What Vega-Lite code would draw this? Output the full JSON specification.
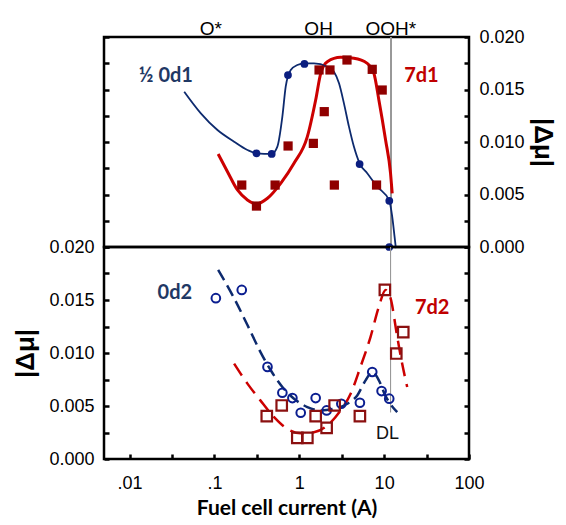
{
  "$schema": "https://vega.github.io/schema/vega-lite/v6.json",
  "padding": {"left": 11, "top": 18, "right": 5, "bottom": 5},
  "background": "white",
  "config": {
    "view": {"stroke": "black", "strokeWidth": 2.5},
    "axis": {"labelFont": "Liberation Sans", "labelFontSize": 18, "labelColor": "black", "domain": false, "tickColor": "black", "tickWidth": 2.5, "grid": false, "titleColor": "black"}
  },
  "datasets": {
    "tbp": [
      {"x": 0.313, "y": 0.00892}, {"x": 0.473, "y": 0.00886}, {"x": 0.736, "y": 0.01638},
      {"x": 1.15, "y": 0.01743}, {"x": 5.14, "y": 0.0079}, {"x": 11.5, "y": 0.0044}, {"x": 11.5, "y": 0.0}
    ],
    "tbl": [
      {"x": 0.0441, "y": 0.01479}, {"x": 0.0692, "y": 0.01273}, {"x": 0.1086, "y": 0.01114},
      {"x": 0.1706, "y": 0.01003}, {"x": 0.245, "y": 0.00924}, {"x": 0.313, "y": 0.00892},
      {"x": 0.473, "y": 0.00886}, {"x": 0.552, "y": 0.00956}, {"x": 0.632, "y": 0.01241},
      {"x": 0.692, "y": 0.01527}, {"x": 0.793, "y": 0.01686}, {"x": 0.948, "y": 0.01733},
      {"x": 1.148, "y": 0.01749}, {"x": 1.49, "y": 0.01749}, {"x": 2.14, "y": 0.01717},
      {"x": 2.56, "y": 0.0167}, {"x": 2.94, "y": 0.01559}, {"x": 3.36, "y": 0.01368},
      {"x": 3.85, "y": 0.01146}, {"x": 4.4, "y": 0.00956}, {"x": 5.14, "y": 0.00797},
      {"x": 6.32, "y": 0.00702}, {"x": 8.29, "y": 0.00575}, {"x": 11.48, "y": 0.00441},
      {"x": 12.45, "y": 0.00289}, {"x": 13.27, "y": 0.00098}, {"x": 13.74, "y": -0.0001}
    ],
    "trp": [
      {"x": 0.21, "y": 0.0059}, {"x": 0.313, "y": 0.0039}, {"x": 0.519, "y": 0.0059},
      {"x": 0.738, "y": 0.00962}, {"x": 1.465, "y": 0.00987}, {"x": 1.97, "y": 0.01289},
      {"x": 1.71, "y": 0.01686}, {"x": 2.3, "y": 0.01686}, {"x": 2.59, "y": 0.0059},
      {"x": 3.65, "y": 0.01781}, {"x": 7.24, "y": 0.01692}, {"x": 9.49, "y": 0.01495},
      {"x": 8.14, "y": 0.0059}
    ],
    "trl": [
      {"x": 0.1107, "y": 0.00886}, {"x": 0.1426, "y": 0.00717}, {"x": 0.187, "y": 0.00543},
      {"x": 0.245, "y": 0.00448}, {"x": 0.313, "y": 0.0041}, {"x": 0.422, "y": 0.00464},
      {"x": 0.604, "y": 0.00606}, {"x": 0.867, "y": 0.00797}, {"x": 1.245, "y": 0.01051},
      {"x": 1.56, "y": 0.014}, {"x": 1.79, "y": 0.01654}, {"x": 2.14, "y": 0.01765},
      {"x": 3.07, "y": 0.01806}, {"x": 4.4, "y": 0.01797}, {"x": 6.32, "y": 0.01749},
      {"x": 7.57, "y": 0.01654}, {"x": 8.67, "y": 0.014}, {"x": 10.4, "y": 0.01019},
      {"x": 11.9, "y": 0.00702}, {"x": 12.45, "y": 0.00511}
    ],
    "bbp": [
      {"x": 0.104, "y": 0.01517}, {"x": 0.21, "y": 0.01595}, {"x": 0.422, "y": 0.00869},
      {"x": 0.632, "y": 0.00625}, {"x": 0.83, "y": 0.00575}, {"x": 1.04, "y": 0.00436},
      {"x": 1.56, "y": 0.00575}, {"x": 2.1, "y": 0.00458}, {"x": 3.13, "y": 0.00521},
      {"x": 5.18, "y": 0.00531}, {"x": 7.24, "y": 0.00821}, {"x": 9.33, "y": 0.00641},
      {"x": 11.48, "y": 0.00569}
    ],
    "bbl": [
      {"x": 0.1107, "y": 0.01785}, {"x": 0.1706, "y": 0.01517}, {"x": 0.245, "y": 0.01264},
      {"x": 0.348, "y": 0.01011}, {"x": 0.461, "y": 0.00837}, {"x": 0.632, "y": 0.00679},
      {"x": 0.867, "y": 0.00569}, {"x": 1.245, "y": 0.0049}, {"x": 1.79, "y": 0.00458},
      {"x": 2.56, "y": 0.00474}, {"x": 3.68, "y": 0.00521}, {"x": 4.82, "y": 0.006},
      {"x": 6.04, "y": 0.00742}, {"x": 7.24, "y": 0.00821}, {"x": 8.67, "y": 0.00742},
      {"x": 10.3, "y": 0.006}, {"x": 14.26, "y": 0.00442}
    ],
    "brp": [
      {"x": 0.414, "y": 0.00404}, {"x": 0.621, "y": 0.00505}, {"x": 0.948, "y": 0.00199},
      {"x": 1.245, "y": 0.00199}, {"x": 1.56, "y": 0.00404}, {"x": 2.1, "y": 0.00294},
      {"x": 2.61, "y": 0.00505}, {"x": 5.18, "y": 0.00404}, {"x": 10.2, "y": 0.01595},
      {"x": 13.9, "y": 0.00995}, {"x": 16.8, "y": 0.01197}
    ],
    "brl": [
      {"x": 0.1706, "y": 0.009}, {"x": 0.245, "y": 0.00711}, {"x": 0.348, "y": 0.00553},
      {"x": 0.505, "y": 0.00395}, {"x": 0.724, "y": 0.00284}, {"x": 1.04, "y": 0.00243},
      {"x": 1.49, "y": 0.00253}, {"x": 2.14, "y": 0.00316}, {"x": 3.07, "y": 0.00458},
      {"x": 4.03, "y": 0.00616}, {"x": 5.26, "y": 0.00869}, {"x": 6.92, "y": 0.01153},
      {"x": 8.67, "y": 0.01437}, {"x": 10.4, "y": 0.01595}, {"x": 11.9, "y": 0.01517},
      {"x": 14.26, "y": 0.01153}, {"x": 16.3, "y": 0.009}, {"x": 18.7, "y": 0.00679}
    ],
    "tlab": [
      {"x": 0.0268, "y": 0.01629, "label": "½ 0d1", "s": "blue"},
      {"x": 27.5, "y": 0.01629, "label": "7d1", "s": "red"}
    ],
    "blab": [
      {"x": 0.0342, "y": 0.0157, "label": "0d2", "s": "blue"},
      {"x": 36.8, "y": 0.01422, "label": "7d2", "s": "red"}
    ],
    "ann": [
      {"x": 0.0908, "y": 0.0208, "label": "O*"},
      {"x": 1.69, "y": 0.0208, "label": "OH"},
      {"x": 12.0, "y": 0.0208, "label": "OOH*"}
    ],
    "dl": [{"x": 10.96, "y": 0.00237, "label": "DL"}]
  },
  "vconcat": [
    {
      "width": 365,
      "height": 210,
      "resolve": {"scale": {"y": "independent"}},
      "layer": [
        {
          "data": {"name": "tbl"},
          "mark": {"type": "rule", "color": "#999999", "strokeWidth": 1.1},
          "encoding": {
            "x": {"datum": 11.9, "type": "quantitative", "scale": {"type": "log", "domain": [0.005, 100], "nice": false}, "axis": null}
          }
        },
        {
          "data": {"name": "trl"},
          "mark": {"type": "line", "color": "#cc0000", "strokeWidth": 3, "interpolate": "monotone"},
          "encoding": {
            "x": {"field": "x", "type": "quantitative", "scale": {"type": "log", "domain": [0.005, 100], "nice": false}, "axis": null},
            "y": {"field": "y", "type": "quantitative", "scale": {"domain": [0, 0.02], "nice": false},
              "axis": {"orient": "left", "values": [0, 0.0025, 0.005, 0.0075, 0.01, 0.0125, 0.015, 0.0175, 0.02], "labels": false, "tickSize": -5, "title": null}}
          }
        },
        {
          "data": {"name": "tbl"},
          "mark": {"type": "line", "color": "#0d2a6e", "strokeWidth": 1.8, "interpolate": "monotone"},
          "encoding": {
            "x": {"field": "x", "type": "quantitative", "scale": {"type": "log", "domain": [0.005, 100], "nice": false}, "axis": null},
            "y": {"field": "y", "type": "quantitative", "scale": {"domain": [0, 0.02], "nice": false},
              "axis": {"orient": "right", "values": [0, 0.0025, 0.005, 0.0075, 0.01, 0.0125, 0.015, 0.0175, 0.02],
                "labelExpr": "round(datum.value*10000) % 50 == 0 ? format(datum.value, '.3f') : ''",
                "tickSize": -5, "labelPadding": 15, "title": "|Δμ|", "titleFont": "Liberation Sans", "titleFontWeight": "bold", "titleFontSize": 26, "titlePadding": 5}}
          }
        },
        {
          "data": {"name": "trp"},
          "mark": {"type": "point", "shape": "square", "filled": true, "color": "#900000", "size": 85, "opacity": 1},
          "encoding": {
            "x": {"field": "x", "type": "quantitative", "scale": {"type": "log", "domain": [0.005, 100], "nice": false}, "axis": null},
            "y": {"field": "y", "type": "quantitative", "scale": {"domain": [0, 0.02], "nice": false}, "axis": null}
          }
        },
        {
          "data": {"name": "tbp"},
          "mark": {"type": "circle", "color": "#0b1e80", "size": 60, "opacity": 1},
          "encoding": {
            "x": {"field": "x", "type": "quantitative", "scale": {"type": "log", "domain": [0.005, 100], "nice": false}, "axis": null},
            "y": {"field": "y", "type": "quantitative", "scale": {"domain": [0, 0.02], "nice": false}, "axis": null}
          }
        },
        {
          "data": {"name": "tlab"},
          "mark": {"type": "text", "font": "Lato", "fontWeight": "bold", "fontSize": 20, "align": "center", "baseline": "middle"},
          "encoding": {
            "x": {"field": "x", "type": "quantitative", "scale": {"type": "log", "domain": [0.005, 100], "nice": false}, "axis": null},
            "y": {"field": "y", "type": "quantitative", "scale": {"domain": [0, 0.02], "nice": false}, "axis": null},
            "text": {"field": "label"},
            "color": {"field": "s", "type": "nominal", "scale": {"domain": ["blue", "red"], "range": ["#1f3864", "#c00000"]}, "legend": null}
          }
        },
        {
          "data": {"name": "ann"},
          "mark": {"type": "text", "font": "Liberation Sans", "fontSize": 19, "align": "center", "baseline": "middle", "color": "black"},
          "encoding": {
            "x": {"field": "x", "type": "quantitative", "scale": {"type": "log", "domain": [0.005, 100], "nice": false}, "axis": null},
            "y": {"field": "y", "type": "quantitative", "scale": {"domain": [0, 0.02], "nice": false}, "axis": null},
            "text": {"field": "label"}
          }
        }
      ]
    },
    {
      "width": 365,
      "height": 212,
      "resolve": {"scale": {"y": "independent"}},
      "layer": [
        {
          "data": {"name": "dl"},
          "mark": {"type": "rule", "color": "#999999", "strokeWidth": 1.1},
          "encoding": {
            "x": {"datum": 11.9, "type": "quantitative", "scale": {"type": "log", "domain": [0.005, 100], "nice": false},
              "axis": {"orient": "bottom", "values": [0.01, 0.0316, 0.1, 0.316, 1, 3.16, 10, 31.6, 100],
                "labelExpr": "datum.value == 0.01 ? '.01' : datum.value == 0.1 ? '.1' : datum.value == 1 ? '1' : datum.value == 10 ? '10' : datum.value == 100 ? '100' : ''",
                "tickSize": -5, "labelPadding": 20, "labelFlush": false,
                "title": "Fuel cell current (A)", "titleFont": "Lato", "titleFontWeight": "bold", "titleFontSize": 21, "titlePadding": 5}},
            "y": {"datum": 0.00439, "type": "quantitative", "scale": {"domain": [0, 0.02], "nice": false}, "axis": null},
            "y2": {"datum": 0.02}
          }
        },
        {
          "data": {"name": "brl"},
          "mark": {"type": "line", "color": "#cc0000", "strokeWidth": 2.5, "strokeDash": [14, 8], "interpolate": "monotone"},
          "encoding": {
            "x": {"field": "x", "type": "quantitative", "scale": {"type": "log", "domain": [0.005, 100], "nice": false}},
            "y": {"field": "y", "type": "quantitative", "scale": {"domain": [0, 0.02], "nice": false},
              "axis": {"orient": "left", "values": [0, 0.0025, 0.005, 0.0075, 0.01, 0.0125, 0.015, 0.0175, 0.02],
                "labelExpr": "round(datum.value*10000) % 50 == 0 ? format(datum.value, '.3f') : ''",
                "tickSize": -5, "labelPadding": 15, "title": "|Δμ|", "titleFont": "Liberation Sans", "titleFontWeight": "bold", "titleFontSize": 26, "titlePadding": 10}}
          }
        },
        {
          "data": {"name": "bbl"},
          "mark": {"type": "line", "color": "#0d2a6e", "strokeWidth": 2.5, "strokeDash": [12, 6], "interpolate": "monotone"},
          "encoding": {
            "x": {"field": "x", "type": "quantitative", "scale": {"type": "log", "domain": [0.005, 100], "nice": false}},
            "y": {"field": "y", "type": "quantitative", "scale": {"domain": [0, 0.02], "nice": false},
              "axis": {"orient": "right", "values": [0, 0.0025, 0.005, 0.0075, 0.01, 0.0125, 0.015, 0.0175, 0.02], "labels": false, "tickSize": -5, "title": null}}
          }
        },
        {
          "data": {"name": "bbp"},
          "mark": {"type": "point", "shape": "circle", "filled": false, "color": "#0b1e90", "strokeWidth": 2, "size": 75, "opacity": 1},
          "encoding": {
            "x": {"field": "x", "type": "quantitative", "scale": {"type": "log", "domain": [0.005, 100], "nice": false}},
            "y": {"field": "y", "type": "quantitative", "scale": {"domain": [0, 0.02], "nice": false}, "axis": null}
          }
        },
        {
          "data": {"name": "brp"},
          "mark": {"type": "point", "shape": "square", "filled": false, "color": "#8b1010", "strokeWidth": 2.2, "size": 110, "opacity": 1},
          "encoding": {
            "x": {"field": "x", "type": "quantitative", "scale": {"type": "log", "domain": [0.005, 100], "nice": false}},
            "y": {"field": "y", "type": "quantitative", "scale": {"domain": [0, 0.02], "nice": false}, "axis": null}
          }
        },
        {
          "data": {"name": "blab"},
          "mark": {"type": "text", "font": "Lato", "fontWeight": "bold", "fontSize": 20, "align": "center", "baseline": "middle"},
          "encoding": {
            "x": {"field": "x", "type": "quantitative", "scale": {"type": "log", "domain": [0.005, 100], "nice": false}},
            "y": {"field": "y", "type": "quantitative", "scale": {"domain": [0, 0.02], "nice": false}, "axis": null},
            "text": {"field": "label"},
            "color": {"field": "s", "type": "nominal", "scale": {"domain": ["blue", "red"], "range": ["#1f3864", "#c00000"]}, "legend": null}
          }
        },
        {
          "data": {"name": "dl"},
          "mark": {"type": "text", "font": "Liberation Sans", "fontSize": 18, "align": "center", "baseline": "middle", "color": "#111111"},
          "encoding": {
            "x": {"field": "x", "type": "quantitative", "scale": {"type": "log", "domain": [0.005, 100], "nice": false}},
            "y": {"field": "y", "type": "quantitative", "scale": {"domain": [0, 0.02], "nice": false}, "axis": null},
            "text": {"field": "label"}
          }
        }
      ]
    }
  ],
  "spacing": 0,
  "bounds": "flush"
}
